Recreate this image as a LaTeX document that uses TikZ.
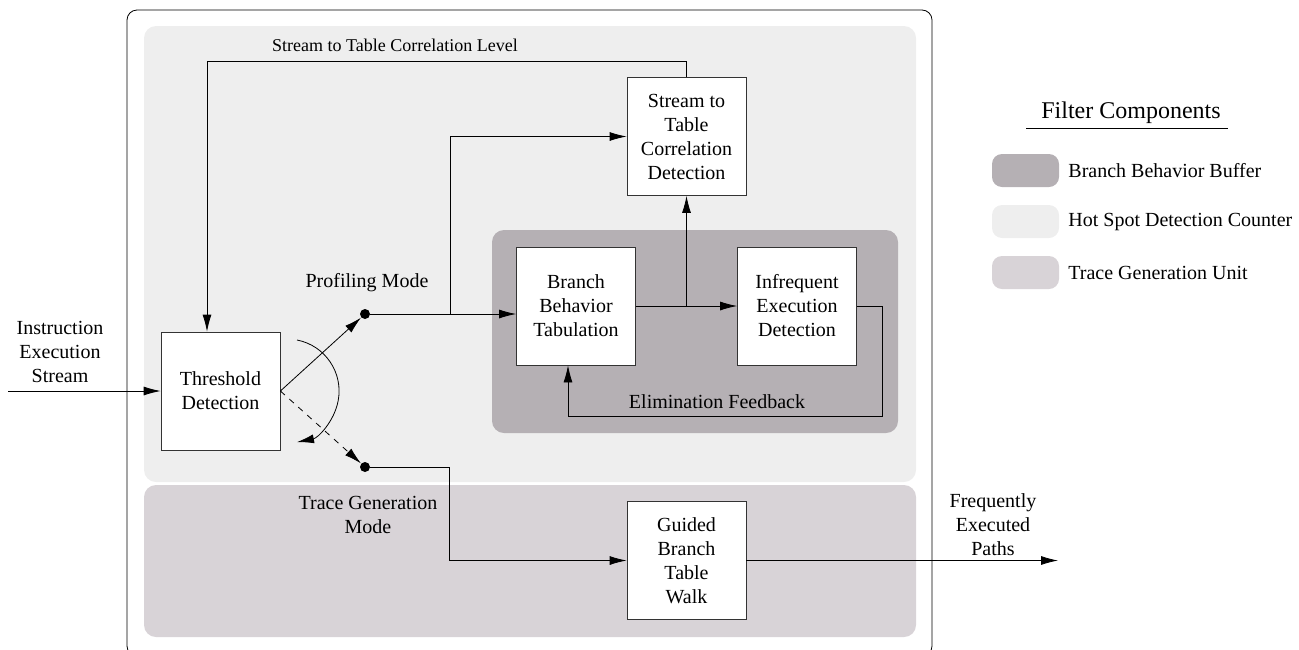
\documentclass[tikz,border=0pt]{standalone}
\usepackage{fontspec}
\setmainfont{Liberation Serif}
\usetikzlibrary{arrows.meta}

\definecolor{bufgray}{RGB}{181,176,180}
\definecolor{hotgray}{RGB}{238,238,238}
\definecolor{tracegray}{RGB}{216,211,215}

\begin{document}
\begin{tikzpicture}[x=0.5pt, y=0.5pt,
  block/.style={rectangle, draw=black!80, fill=white, align=center, minimum width=59.5pt, minimum height=59pt, inner sep=1pt},
  arr/.style={-{Latex[length=8.5pt,width=4.5pt]}},
  dot/.style={circle, fill=black, inner sep=0pt, minimum size=5pt},
  lbl/.style={align=center, inner sep=1pt}]

\useasboundingbox (0,0) rectangle (1299,-649);

% regions
\draw[rounded corners=5pt] (127,-10) rectangle (932,-656);
\fill[hotgray, rounded corners=6pt] (144,-26) rectangle (916,-482);
\fill[tracegray, rounded corners=6pt] (144,-485) rectangle (916,-637);
\fill[bufgray, rounded corners=6pt] (492,-230) rectangle (898,-433);

% blocks
\node[block] (thr) at (220.5,-391) {Threshold\\Detection};
\node[block] (stc) at (686.5,-136.5) {Stream to\\Table\\Correlation\\Detection};
\node[block] (bbt) at (576,-306) {Branch\\Behavior\\Tabulation};
\node[block] (ied) at (797,-306) {Infrequent\\Execution\\Detection};
\node[block] (gbt) at (686.5,-560.5) {Guided\\Branch\\Table\\Walk};

\node[dot] (pdot) at (365,-314) {};
\node[dot] (tdot) at (365,-467) {};

\coordinate (src) at (8,-391);
\coordinate (sink) at (1058,-560.5);
\coordinate (lvl) at (207,-61);
\coordinate (pbranch) at (450,-314);
\coordinate (tbranch) at (449,-467);
\coordinate (fb) at (568,-416);

% connectors
\draw[arr] (src) -- (thr);
\draw[arr] (thr.east) -- (pdot);
\draw[arr, dashed] (thr.east) -- (tdot);
\draw[arr] (pdot) -- (pdot -| bbt.west);
\draw[arr] (pbranch) |- (stc.west);
\draw[arr] (stc.north) |- (lvl) -- (lvl |- thr.north);
\draw[arr] (bbt) -- (ied);
\draw[arr] (bbt.east -| stc.south) -- (stc.south);
\draw[arr] (ied.east) -- ++(25,0) |- (fb) -- (fb |- bbt.south);
\draw[arr] (tdot) -- (tbranch) |- (gbt.west);
\draw[arr] (gbt) -- (sink);
\draw[arr] (297,-340) arc[start angle=79, end angle=-79, radius=52];

% labels
\node[lbl] (inlbl) at (60,-352) {Instruction\\Execution\\Stream};
\node[lbl, font=\fontsize{9}{11}\selectfont] (lvllbl) at (395,-45) {Stream to Table Correlation Level};
\node[lbl] (proflbl) at (367,-283) {Profiling Mode};
\node[lbl] (fblbl) at (717,-402) {Elimination Feedback};
\node[lbl] (tracelbl) at (368,-515) {Trace Generation\\Mode};
\node[lbl] (outlbl) at (993,-525) {Frequently\\Executed\\Paths};

% legend
\node[lbl, font=\fontsize{12}{14}\selectfont] (legtitle) at (1131,-113) {Filter Components};
\draw (1026,-128) -- (1228,-128);
\fill[bufgray, rounded corners=5pt] (992,-154) rectangle (1059,-187);
\fill[hotgray, rounded corners=5pt] (992,-205) rectangle (1059,-238);
\fill[tracegray, rounded corners=5pt] (992,-256) rectangle (1059,-289);
\node[lbl, anchor=west] (legbuf) at (1066,-171) {Branch Behavior Buffer};
\node[lbl, anchor=west] (leghot) at (1066,-222) {Hot Spot Detection Counter};
\node[lbl, anchor=west] (legtrace) at (1066,-273) {Trace Generation Unit};

\end{tikzpicture}
\end{document}
